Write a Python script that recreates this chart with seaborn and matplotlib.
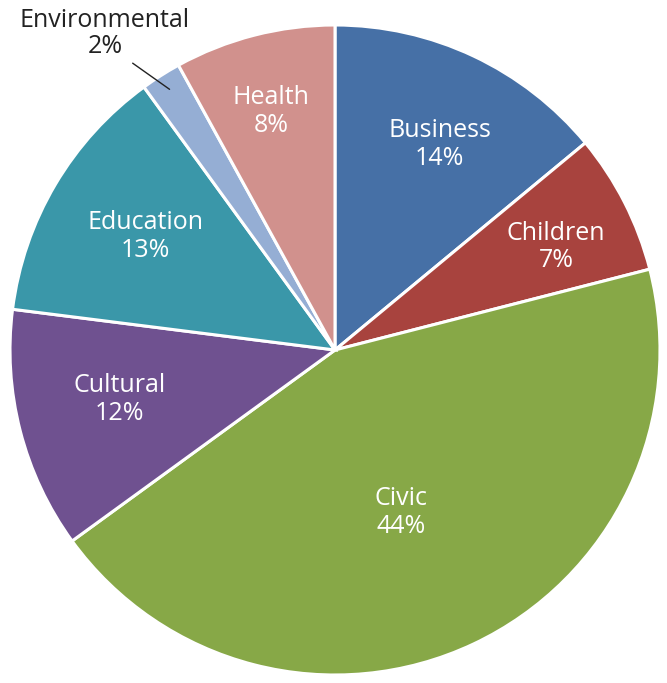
import matplotlib
matplotlib.use("Agg")
import matplotlib.pyplot as plt
import seaborn as sns
import numpy as np

categories = ["Business", "Children", "Civic", "Cultural", "Education", "Environmental", "Health"]
values = [14, 7, 44, 12, 13, 2, 8]
colors = ["#4670A6", "#A8433E", "#87A847", "#6F5190", "#3A97A9", "#95AED4", "#D1918D"]

# label placement (radius fraction, angle in degrees) per category
label_pos = [(0.71, 63), (0.75, 25), (0.54, -68), (0.68, 193), (0.68, 149), None, (0.76, 105)]

sns.set_theme(style="white")
plt.rcParams['font.family'] = ['Open Sans', 'DejaVu Sans']

W, H = 667, 683
fig = plt.figure(figsize=(W / 100, H / 100), dpi=100)
fig.patch.set_facecolor("white")
ax = fig.add_axes([10 / W, 8 / H, 650 / W, 650 / H])

wedges, _ = ax.pie(values, colors=colors, startangle=90, counterclock=False,
                   wedgeprops=dict(edgecolor="white", linewidth=2.2))
ax.set_xlim(-1, 1)
ax.set_ylim(-1, 1)
ax.set_aspect("equal")
ax.axis("off")

FS = 18
for cat, val, pos in zip(categories, values, label_pos):
    if pos is None:
        continue
    r, a = pos
    x, y = r * np.cos(np.radians(a)), r * np.sin(np.radians(a))
    ax.text(x, y, f"{cat}\n{val}%", ha="center", va="center", color="white",
            fontsize=FS, linespacing=1.15)

# Environmental label outside with leader line
i = categories.index("Environmental")
theta1, theta2 = wedges[i].theta1, wedges[i].theta2
mid = (theta1 + theta2) / 2
p0 = (1.08 * np.cos(np.radians(mid + 2.8)), 1.08 * np.sin(np.radians(mid + 2.8)))
p1 = (0.95 * np.cos(np.radians(mid)), 0.95 * np.sin(np.radians(mid)))
ax.plot([p0[0], p1[0]], [p0[1], p1[1]], color="#222222", lw=1, clip_on=False)
ax.text(-0.708, 0.975, f"{categories[i]}\n{values[i]}%", ha="center", va="center",
        color="#222222", fontsize=FS, linespacing=1.05, clip_on=False)

fig.savefig("out.png", dpi=100, facecolor="white")
